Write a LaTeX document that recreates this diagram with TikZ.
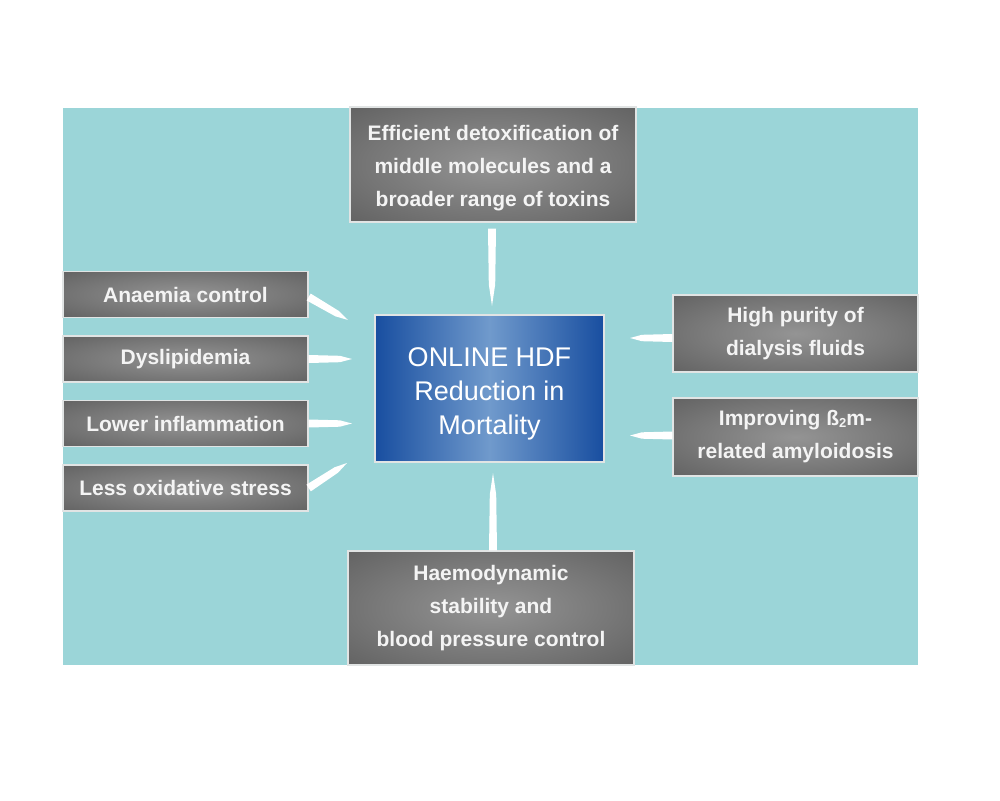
\documentclass[tikz,border=0pt]{standalone}
\usepackage{fontspec}
\setmainfont{Liberation Sans}
\usetikzlibrary{calc}
\definecolor{teal}{RGB}{155,213,216}
\definecolor{gdark}{RGB}{78,78,78}
\definecolor{gmid}{RGB}{118,118,118}
\definecolor{glight}{RGB}{148,148,148}
\definecolor{bdark}{RGB}{24,78,160}
\definecolor{blight}{RGB}{112,154,204}
\definecolor{txt}{RGB}{244,244,244}
\definecolor{edge}{RGB}{225,228,228}
\pgfdeclareradialshading{grayglow}{\pgfpoint{0bp}{0bp}}{color(0bp)=(glight); color(22bp)=(gmid); color(50bp)=(gdark)}
\tikzset{
  graybox/.style={draw=edge, line width=1.3pt, shading=grayglow,
    inner sep=0pt, align=center, text=txt, font=\fontsize{21}{33}\selectfont\bfseries},
  bluebox/.style={draw=edge, line width=1.3pt, left color=bdark, right color=bdark, middle color=blight,
    inner sep=0pt, align=center, text=white, font=\fontsize{27}{34}\selectfont},
  boxtext/.style={inner sep=0pt, align=center, text=txt, font=\fontsize{21}{33}\selectfont\bfseries},
  bluetext/.style={inner sep=0pt, align=center, text=white, font=\fontsize{27}{34}\selectfont},
  spikefill/.style={fill=white},
}
\newcommand\spikearrow[2]{%
  \fill[spikefill] ($(#1)!4pt!90:(#2)$) -- ($($(#1)!0.72!(#2)$)!3.2pt!90:(#2)$) -- (#2)
    -- ($($(#1)!0.72!(#2)$)!3.2pt!-90:(#2)$) -- ($(#1)!4pt!-90:(#2)$) -- cycle;}
\begin{document}
\begin{tikzpicture}[x=1pt,y=-1pt]
\useasboundingbox (0,0) rectangle (1000,800);
\fill[white] (0,0) rectangle (1000,800);
\fill[teal] (63,108) rectangle (918,665);

\node[graybox, minimum width=286pt, minimum height=115pt,
  label={[boxtext, yshift=-4pt]center:Efficient detoxification of\\middle molecules and a\\broader range of toxins}] (top) at (493,164.5) {};
\node[graybox, minimum width=245pt, minimum height=46pt] (anaemia) at (185.5,294.5) {Anaemia control};
\node[graybox, minimum width=245pt, minimum height=46pt] (dys) at (185.5,359) {Dyslipidemia};
\node[graybox, minimum width=245pt, minimum height=46pt] (infl) at (185.5,423.5) {Lower inflammation};
\node[graybox, minimum width=245pt, minimum height=46pt] (oxid) at (185.5,488) {Less oxidative stress};
\node[bluebox, minimum width=229pt, minimum height=147pt,
  label={[bluetext, yshift=-5pt]center:ONLINE HDF\\Reduction in\\Mortality}] (center) at (489.5,388.5) {};
\node[graybox, minimum width=245pt, minimum height=77pt] (purity) at (795.5,333.5)
  {High purity of\\dialysis fluids};
\node[graybox, minimum width=245pt, minimum height=78pt] (beta) at (795.5,437)
  {Improving ß{\fontsize{13}{13}\selectfont\raisebox{-2pt}{2}}m-\\related amyloidosis};
\node[graybox, minimum width=286pt, minimum height=114pt] (bottom) at (491,608)
  {Haemodynamic\\stability and\\blood pressure control};

% arrow start and tip coordinates
\coordinate (s1) at ($(top.south)+(-1,6)$);
\coordinate (t1) at (492,306);
\coordinate (s2) at ($(anaemia.east)+(0,2.5)$);
\coordinate (t2) at (348,320);
\coordinate (s3) at (dys.east);
\coordinate (t3) at (352,359);
\coordinate (s4) at (infl.east);
\coordinate (t4) at (352,423.5);
\coordinate (s5) at (oxid.east);
\coordinate (t5) at (347,463);
\coordinate (s6) at ($(purity.west)+(0,4.5)$);
\coordinate (t6) at (630,338);
\coordinate (s7) at ($(beta.west)+(0,-1.5)$);
\coordinate (t7) at (630,435.5);
\coordinate (s8) at ($(bottom.north)+(2,0)$);
\coordinate (t8) at (493,473);

\spikearrow{s1}{t1}
\spikearrow{s2}{t2}
\spikearrow{s3}{t3}
\spikearrow{s4}{t4}
\spikearrow{s5}{t5}
\spikearrow{s6}{t6}
\spikearrow{s7}{t7}
\spikearrow{s8}{t8}
\end{tikzpicture}
\end{document}
